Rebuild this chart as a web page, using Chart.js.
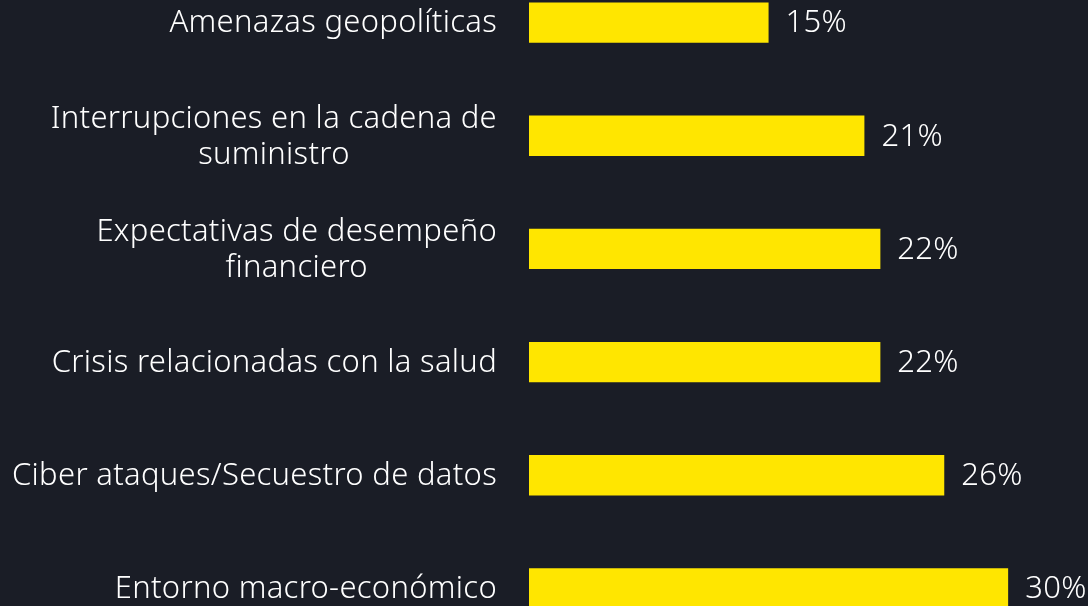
<!DOCTYPE html>
<html>
<head>
<meta charset="utf-8">
<script src="https://cdn.jsdelivr.net/npm/chart.js@4"></script>
<style>
  html, body { margin: 0; padding: 0; background: #1a1d26; overflow: hidden; }
  #wrap { position: absolute; left: 0; top: -34px; width: 1088px; height: 679px; }
</style>
</head>
<body>
<div id="wrap"><canvas id="chart"></canvas></div>
<script>
"use strict";
// categories, top to bottom
const categories = [
  ["Amenazas geopolíticas"],
  ["Interrupciones en la cadena de", "suministro"],
  ["Expectativas de desempeño", "financiero"],
  ["Crisis relacionadas con la salud"],
  ["Ciber ataques/Secuestro de datos"],
  ["Entorno macro-económico"]
];
const values = [15, 21, 22, 22, 26, 30];

const FONT = '300 31px "Noto Sans", sans-serif';

// labels on the left: block right aligned, lines centered in the block
const leftLabels = {
  id: 'leftLabels',
  afterDraw(chart) {
    const ctx = chart.ctx;
    const y = chart.scales.y;
    ctx.save();
    ctx.font = FONT;
    ctx.letterSpacing = '0.3px';
    ctx.fillStyle = '#ffffff';
    ctx.textBaseline = 'middle';
    ctx.textAlign = 'center';
    categories.forEach((lines, i) => {
      const cy = y.getPixelForValue(i) + 1;
      let w = 0;
      lines.forEach(l => { w = Math.max(w, ctx.measureText(l).width); });
      const cx = 497 - w / 2;
      const lh = 36;
      const top = cy - (lines.length - 1) * lh / 2;
      lines.forEach((l, j) => ctx.fillText(l, cx, top + j * lh));
    });
    ctx.restore();
  }
};

// value labels after each bar
const valueLabels = {
  id: 'valueLabels',
  afterDatasetsDraw(chart) {
    const ctx = chart.ctx;
    const meta = chart.getDatasetMeta(0);
    ctx.save();
    ctx.font = FONT;
    ctx.letterSpacing = '0.3px';
    ctx.fillStyle = '#ffffff';
    ctx.textBaseline = 'middle';
    ctx.textAlign = 'left';
    meta.data.forEach((bar, i) => {
      ctx.fillText(values[i] + '%', bar.x + 17, bar.y + 1);
    });
    ctx.restore();
  }
};

new Chart('chart', {
  type: 'bar',
  data: {
    labels: categories.map(c => c.join(' ')),
    datasets: [{
      data: values,
      backgroundColor: '#ffe600',
      borderWidth: 0,
      categoryPercentage: 1,
      barPercentage: 0.356
    }]
  },
  options: {
    indexAxis: 'y',
    responsive: true,
    maintainAspectRatio: false,
    animation: false,
    layout: { padding: 0 },
    plugins: { legend: { display: false }, tooltip: { enabled: false } },
    scales: {
      x: {
        display: false,
        min: 0,
        max: 35
      },
      y: {
        grid: { display: false },
        border: { display: false },
        ticks: { display: false },
        afterFit(scale) { scale.width = 529; }
      }
    }
  },
  plugins: [leftLabels, valueLabels]
});
</script>
</body>
</html>
